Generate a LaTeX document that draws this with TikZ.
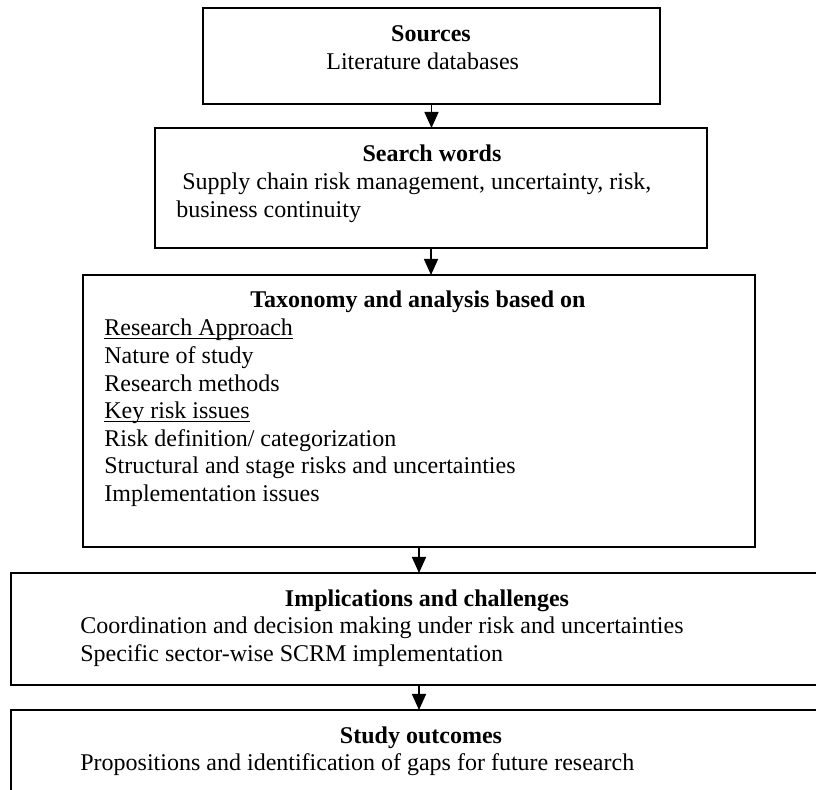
\documentclass[tikz,border=0pt]{standalone}
\usepackage{fontspec}
\setmainfont{Liberation Serif}
\usetikzlibrary{arrows.meta}
\newsavebox{\ulword}
\newcommand{\wordline}[1]{\sbox{\ulword}{#1}\rlap{\rule[-1.6pt]{\wd\ulword}{0.55pt}}\usebox{\ulword}}
\tikzset{
  stagebox/.style={draw, line width=0.8pt, inner sep=0pt, outer sep=0pt, anchor=north west},
  boxtitle/.style={anchor=base, inner sep=0pt, font=\fontsize{12}{13.8}\selectfont\bfseries},
  boxtext/.style={anchor=base west, inner sep=0pt, align=left, font=\fontsize{12}{13.8}\selectfont},
  flowarrow/.style={line width=0.8pt, -{Triangle[width=7pt,length=8pt]}}
}
\begin{document}
\begin{tikzpicture}[x=0.5pt,y=-0.5pt]
  \clip (0,0) rectangle (816,790);
  % frames
  \node[stagebox, minimum width=228.5pt, minimum height=48pt] (src) at (203,8) {};
  \node[stagebox, minimum width=276pt, minimum height=60pt] (srch) at (155,128) {};
  \node[stagebox, minimum width=336pt, minimum height=136pt] (tax) at (83,275) {};
  \node[stagebox, minimum width=414.5pt, minimum height=56pt] (impl) at (11,573) {};
  \node[stagebox, minimum width=414.5pt, minimum height=60pt] (outc) at (11,710) {};
  % texts (multi-line texts are placed by their last baseline)
  \node[boxtitle] (srct) at (431,42) {Sources};
  \node[boxtext] (srcb) at (326,70) {Literature databases};
  \node[boxtitle] (srcht) at (432,162) {Search words};
  \node[boxtext] (srchb) at (176,217.6) {\ Supply chain risk management, uncertainty, risk,\\business continuity};
  \node[boxtitle] (taxt) at (418,308) {Taxonomy and analysis based on};
  \node[boxtext] (taxb) at (104,501.6) {\wordline{Research Approach}\\Nature of study\\Research methods\\\wordline{Key risk issues}\\Risk definition/ categorization\\Structural and stage risks and uncertainties\\Implementation issues};
  \node[boxtitle] (implt) at (427,607) {Implications and challenges};
  \node[boxtext] (implb) at (80,661.6) {Coordination and decision making under risk and uncertainties\\Specific sector-wise SCRM implementation};
  \node[boxtitle] (outct) at (421,744) {Study outcomes};
  \node[boxtext] (outcb) at (80,771) {Propositions and identification of gaps for future research};
  % arrows
  \draw[flowarrow] (src.south) -- (src.south |- srch.north);
  \draw[flowarrow] (srch.south) -- (srch.south |- tax.north);
  \draw[flowarrow] (tax.south) -- (tax.south |- impl.north);
  \draw[flowarrow] (tax.south |- impl.south) -- (tax.south |- outc.north);
\end{tikzpicture}
\end{document}
